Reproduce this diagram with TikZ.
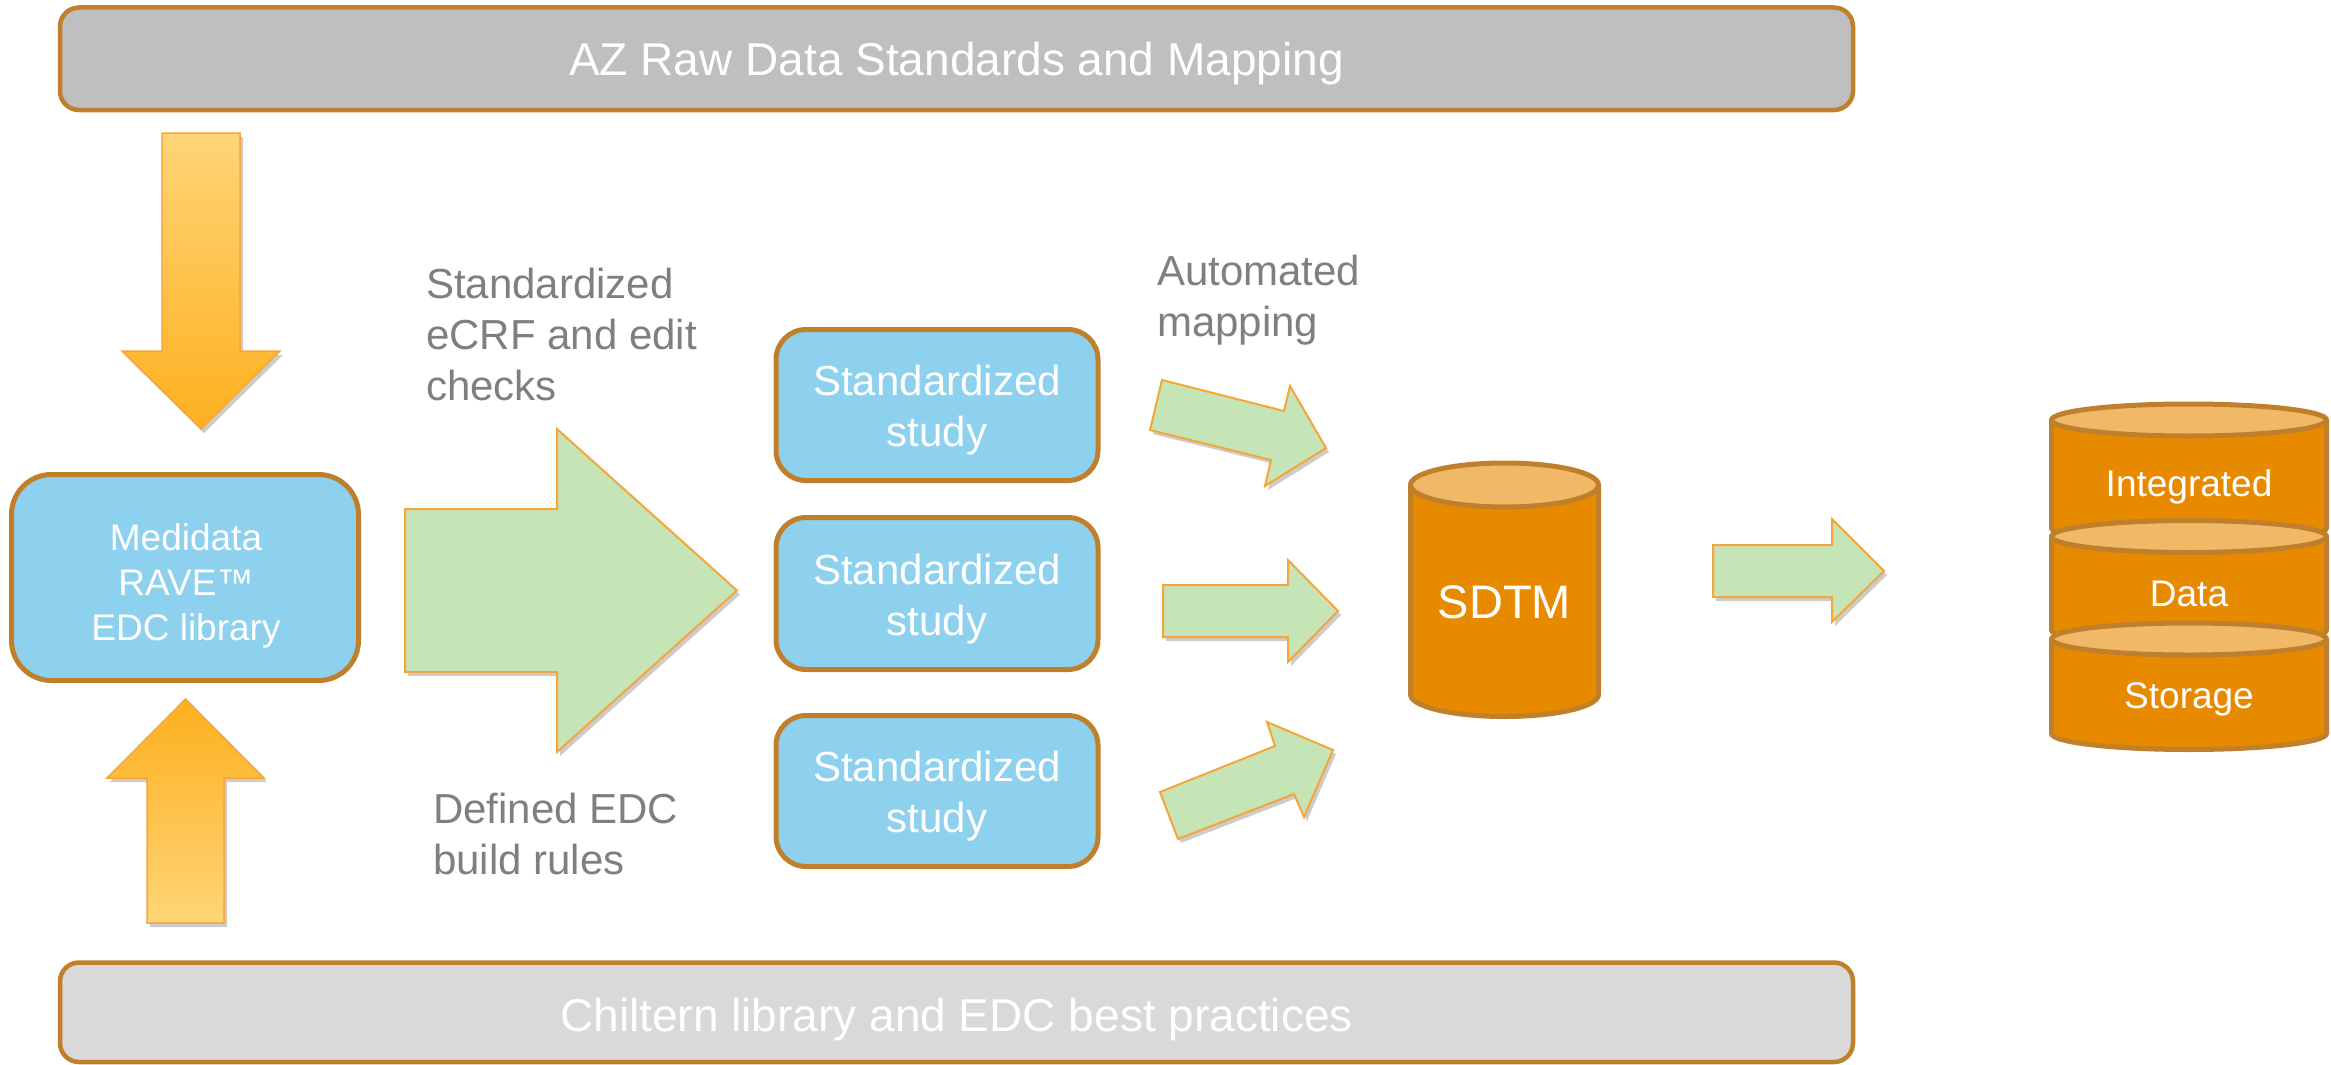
\documentclass[tikz,border=0pt]{standalone}
\usepackage{fontspec}
\setmainfont{Liberation Sans}
\usetikzlibrary{shadows}
\definecolor{brd}{HTML}{C0802B}
\definecolor{bluefill}{HTML}{8DD1EE}
\definecolor{grayA}{HTML}{BFBFBF}
\definecolor{grayB}{HTML}{D9D9D9}
\definecolor{greenF}{HTML}{C5E5B7}
\definecolor{orgLine}{HTML}{F5A53A}
\definecolor{orgDark}{HTML}{E88A00}
\definecolor{orgLight}{HTML}{F1B967}
\definecolor{arrTop}{HTML}{FFD577}
\definecolor{arrBot}{HTML}{FDB01F}
\definecolor{txtgray}{HTML}{7F7F7F}
\tikzset{
 barbox/.style={draw=brd, line width=4.5pt, rounded corners=19pt, inner sep=0pt, text=white,
   font=\fontsize{46}{55}\selectfont, text height=33pt, text depth=0pt},
 bluebox/.style={draw=brd, line width=5pt, fill=bluefill, inner sep=0pt},
 whitetxt/.style={text=white, inner sep=0pt, align=center},
 graytxt/.style={text=txtgray, inner sep=0pt, align=left, anchor=north west,
   font=\fontsize{42}{51}\selectfont},
 arrshadow/.style={drop shadow={shadow xshift=3pt, shadow yshift=-4pt, opacity=.2, fill=black}},
 greenarrow/.style={fill=greenF, draw=orgLine, line width=2pt, line join=miter, arrshadow},
 orangearrow/.style={draw=orgLine, line width=1.5pt, arrshadow},
 cylline/.style={draw=brd, line width=5pt, line join=round}
}
\newcommand\mycyl[3]{%
 \path[cylline, fill=orgDark] (2051.5,#1) -- (2051.5,#2)
   arc[start angle=180, end angle=0, x radius=137.5, y radius=#3] -- (2326.5,#1) -- cycle;
 \path[cylline, fill=orgLight] (2189,#1) ellipse[x radius=137.5, y radius=#3];
}
\begin{document}
\begin{tikzpicture}[x=1pt, y=-1pt]
\useasboundingbox (0,0) rectangle (2331,1065);

% bars
\node[barbox, fill=grayA, minimum width=1793pt, minimum height=102.5pt] (azbar) at (956.5,58.75)
  {AZ Raw Data Standards and Mapping};
\node[barbox, fill=grayB, minimum width=1793pt, minimum height=99.5pt] (chbar) at (956.5,1012.25)
  {\raisebox{-3pt}{Chiltern library and EDC best practices}};

% orange arrows
\shade[orangearrow, top color=arrTop, bottom color=arrBot]
  (162,133) -- (240,133) -- (240,351) -- (280,351) -- (201,429) -- (122,351) -- (162,351) -- cycle;
\shade[orangearrow, top color=arrBot, bottom color=arrTop]
  (185.5,699) -- (264,778) -- (224,778) -- (224,923) -- (147,923) -- (147,778) -- (107,778) -- cycle;

% Medidata box
\node[bluebox, rounded corners=40pt, minimum width=347pt, minimum height=206pt] (med) at (185,577.5) {};
\node[whitetxt, font=\fontsize{37}{45}\selectfont] (medtxt) at (186,586) {Medidata\\RAVE™\\EDC library};

% big green arrow
\path[greenarrow] (405,509) -- (557,509) -- (557,429) -- (737,590.5) -- (557,752) -- (557,672) -- (405,672) -- cycle;

% grey labels
\node[graytxt] (lblecrf) at (426,267.5) {Standardized\\eCRF and edit\\checks};
\node[graytxt] (lbledc) at (433,792.5) {Defined EDC\\build rules};
\node[graytxt] (lblmap) at (1157,255) {Automated\\mapping};

% study boxes
\node[bluebox, rounded corners=30pt, minimum width=322pt, minimum height=151pt] (st1) at (937,405) {};
\node[bluebox, rounded corners=30pt, minimum width=322pt, minimum height=152pt] (st2) at (937,593.5) {};
\node[bluebox, rounded corners=30pt, minimum width=322pt, minimum height=151pt] (st3) at (937,791) {};
\node[whitetxt, font=\fontsize{42}{51}\selectfont] (st1t) at (937,410) {Standardized\\study};
\node[whitetxt, font=\fontsize{42}{51}\selectfont] (st2t) at (937,599) {Standardized\\study};
\node[whitetxt, font=\fontsize{42}{51}\selectfont] (st3t) at (937,796) {Standardized\\study};

% mapping arrows
\path[greenarrow] (1162,380) -- (1284,411) -- (1290,386) -- (1326,448) -- (1265,486) -- (1271,460) -- (1150,430) -- cycle;
\path[greenarrow] (1163,585) -- (1288,585) -- (1288,560) -- (1338,611) -- (1288,662) -- (1288,637) -- (1163,637) -- cycle;
\path[greenarrow] (1160,792) -- (1275,746) -- (1267,722) -- (1333,750) -- (1304,817) -- (1294,794) -- (1178,839) -- cycle;

% SDTM cylinder
\path[cylline, fill=orgDark] (1410.5,485) -- (1410.5,694.5)
  arc[start angle=180, end angle=0, x radius=94, y radius=22] -- (1598.5,485) -- cycle;
\path[cylline, fill=orgLight] (1504.5,485) ellipse[x radius=94, y radius=22];
\node[whitetxt, font=\fontsize{47}{56}\selectfont, text height=33.6pt, text depth=0pt] (sdtm) at (1504.5,602) {SDTM};

% arrow to storage
\path[greenarrow] (1713,545) -- (1832,545) -- (1832,519) -- (1884,571) -- (1832,622) -- (1832,597) -- (1713,597) -- cycle;

% integrated data storage
\mycyl{420}{528}{16}
\mycyl{536.5}{630}{16}
\mycyl{639}{733.5}{16}
\node[whitetxt, font=\fontsize{37}{44}\selectfont, text height=26.5pt, text depth=0pt] (intg) at (2189,483) {Integrated};
\node[whitetxt, font=\fontsize{37}{44}\selectfont, text height=26.5pt, text depth=0pt] (data) at (2189,593) {Data};
\node[whitetxt, font=\fontsize{37}{44}\selectfont, text height=26.5pt, text depth=0pt] (stor) at (2189,695) {Storage};
\end{tikzpicture}
\end{document}
